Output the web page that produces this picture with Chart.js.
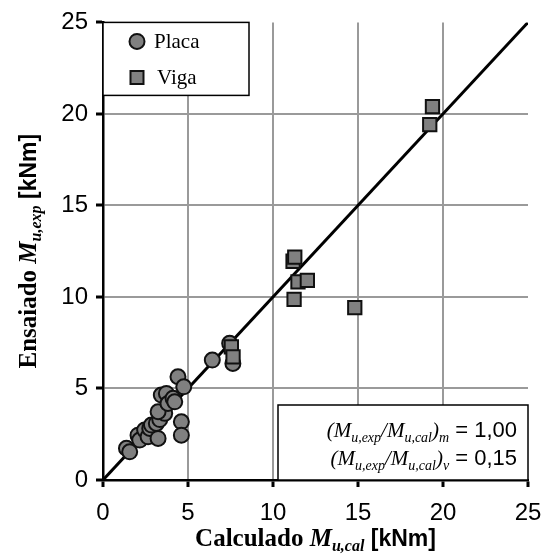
<!DOCTYPE html>
<html>
<head>
<meta charset="utf-8">
<script src="https://cdn.jsdelivr.net/npm/chart.js@4"></script>
<style>
  html, body { margin: 0; padding: 0; background: #fff; }
  #wrap { width: 544px; height: 558px; position: relative; }
</style>
</head>
<body>
<div id="wrap"><canvas id="chart"></canvas></div>
<script>
// Placa (circles)
const placaCalc = [1.38, 1.57, 2.06, 2.16, 2.45, 2.65, 2.75, 2.85, 3.24, 3.14, 3.34, 3.63, 3.24,
  3.43, 3.73, 3.82, 4.12, 4.22, 4.41, 4.75, 4.61, 4.61, 6.43, 7.45, 7.64];
const placaExp = [1.73, 1.54, 2.45, 2.18, 2.73, 2.36, 2.82, 3.00, 2.27, 3.09, 3.30, 3.64, 3.73,
  4.64, 4.73, 4.18, 4.46, 4.27, 5.64, 5.09, 3.18, 2.45, 6.55, 7.47, 6.37];

// Viga (squares)
const vigaCalc = [7.55, 7.65, 11.18, 11.28, 11.47, 12.02, 11.24, 14.81, 19.22, 19.38];
const vigaExp = [7.27, 6.73, 11.95, 12.18, 10.82, 10.91, 9.87, 9.42, 19.42, 20.40];

const lineX = [0, 25];
const axisTicks = [0, 5, 10, 15, 20, 25];
const statsLabels = ["m", "v"];
const statsValues = ["1,00", "0,15"];

const toPts = (xs, ys) => xs.map((x, i) => ({ x, y: ys[i] }));

const SERIF = "'Liberation Serif', 'Times New Roman', serif";
const SANS = "'Liberation Sans', Arial, sans-serif";

// draws a list of [text, font, dy] pieces starting at x
function drawRuns(ctx, runs, x, y) {
  runs.forEach(([t, f, dy]) => {
    ctx.font = f;
    ctx.fillText(t, x, y + (dy || 0));
    x += ctx.measureText(t).width;
  });
}
function runsWidth(ctx, runs) {
  return runs.reduce((w, [t, f]) => { ctx.font = f; return w + ctx.measureText(t).width; }, 0);
}

const decorPlugin = {
  id: "decor",
  afterDraw(chart) {
    const ctx = chart.ctx;
    const a = chart.chartArea;
    ctx.save();
    ctx.fillStyle = "#000";
    ctx.textBaseline = "alphabetic";

    // x title
    const xRuns = [
      ["Calculado ", "bold 25px " + SERIF],
      ["M", "italic bold 25px " + SERIF],
      ["u,cal", "italic bold 16px " + SERIF, 5],
      [" [kNm]", "bold 23px " + SANS]
    ];
    let w = runsWidth(ctx, xRuns);
    drawRuns(ctx, xRuns, (a.left + a.right) / 2 - w / 2, 546);

    // y title
    const yRuns = [
      ["Ensaiado ", "bold 25px " + SERIF],
      ["M", "italic bold 25px " + SERIF],
      ["u,exp", "italic bold 16px " + SERIF, 5],
      [" [kNm]", "bold 23px " + SANS]
    ];
    w = runsWidth(ctx, yRuns);
    ctx.save();
    ctx.translate(36, (a.top + a.bottom) / 2);
    ctx.rotate(-Math.PI / 2);
    drawRuns(ctx, yRuns, -w / 2, 0);
    ctx.restore();

    // legend box
    const lx = a.left, ly = a.top, lw = 146, lh = 73;
    ctx.fillStyle = "#fff";
    ctx.fillRect(lx, ly, lw, lh);
    ctx.strokeStyle = "#000";
    ctx.lineWidth = 1.5;
    ctx.strokeRect(lx, ly, lw, lh);
    chart.data.datasets.filter(d => d.showLine === false).forEach((d, i) => {
      const cy = ly + 19 + i * 36;
      ctx.fillStyle = d.backgroundColor;
      ctx.strokeStyle = d.borderColor;
      ctx.lineWidth = d.borderWidth;
      ctx.beginPath();
      if (d.pointStyle === "circle") ctx.arc(lx + 34, cy, 7.5, 0, Math.PI * 2);
      else ctx.rect(lx + 34 - 6.5, cy - 6.5, 13, 13);
      ctx.fill();
      ctx.stroke();
      ctx.fillStyle = "#000";
      ctx.font = "21px " + SERIF;
      ctx.fillText(d.label, lx + 51 + i * 3, cy + 7);
    });

    // stats box
    const bx = 278, by = 405;
    ctx.fillStyle = "#fff";
    ctx.fillRect(bx, by, a.right - bx, a.bottom - by);
    ctx.strokeStyle = "#000";
    ctx.lineWidth = 1.5;
    ctx.strokeRect(bx, by, a.right - bx, a.bottom - by);
    ctx.fillStyle = "#000";
    statsLabels.forEach((s, i) => {
      const runs = [
        ["(M", "italic 21px " + SERIF],
        ["u,exp", "italic 14px " + SERIF, 5],
        ["/M", "italic 21px " + SERIF],
        ["u,cal", "italic 14px " + SERIF, 5],
        [")", "italic 21px " + SERIF],
        [s, "italic 14px " + SERIF, 5],
        [" = " + statsValues[i], "22px " + SANS]
      ];
      const rw = runsWidth(ctx, runs);
      drawRuns(ctx, runs, 517 - rw, 437 + i * 28);
    });
    ctx.restore();
  }
};

const gridColor = ctx => (ctx.tick && (ctx.tick.value === 0 || ctx.tick.value === 25)) ? "rgba(0,0,0,0)" : "#9a9a9a";

new Chart(document.getElementById("chart"), {
  type: "scatter",
  data: {
    datasets: [
      {
        label: "Placa",
        data: toPts(placaCalc, placaExp),
        pointStyle: "circle",
        pointRadius: 7.5,
        backgroundColor: "#808080",
        borderColor: "#111",
        borderWidth: 2,
        showLine: false,
        order: 2
      },
      {
        label: "Viga",
        data: toPts(vigaCalc, vigaExp),
        pointStyle: "rect",
        pointRadius: 9.4,
        backgroundColor: "#808080",
        borderColor: "#111",
        borderWidth: 2,
        showLine: false,
        order: 1
      },
      {
        label: "1:1",
        data: toPts(lineX, lineX),
        type: "line",
        showLine: true,
        borderColor: "#000",
        borderWidth: 3,
        pointRadius: 0,
        order: 3
      }
    ]
  },
  options: {
    responsive: true,
    maintainAspectRatio: false,
    animation: false,
    layout: { padding: { left: 0, right: 16, top: 22, bottom: 0 } },
    plugins: { legend: { display: false }, tooltip: { enabled: false } },
    scales: {
      x: {
        type: "linear",
        min: 0, max: 25,
        afterBuildTicks: s => { s.ticks = axisTicks.map(v => ({ value: v })); },
        afterFit: s => { s.height = 78; s.paddingLeft = 0; s.paddingRight = 0; },
        ticks: { color: "#000", font: { family: SANS, size: 24 }, padding: 12 },
        grid: { color: gridColor, lineWidth: 2, tickColor: "#000", tickWidth: 3, tickLength: 7 },
        border: { color: "#000", width: 2.5 }
      },
      y: {
        type: "linear",
        min: 0, max: 25,
        afterBuildTicks: s => { s.ticks = axisTicks.map(v => ({ value: v })); },
        afterFit: s => { s.width = 103; },
        ticks: { color: "#000", font: { family: SANS, size: 24 }, padding: 8 },
        grid: { color: gridColor, lineWidth: 2, tickColor: "#000", tickWidth: 3, tickLength: 7 },
        border: { color: "#000", width: 2.5 }
      }
    }
  },
  plugins: [decorPlugin]
});
</script>
</body>
</html>
